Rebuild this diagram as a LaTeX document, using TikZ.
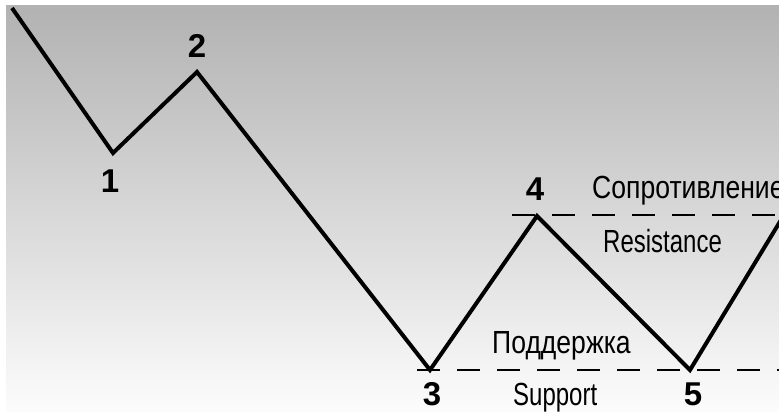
\documentclass[tikz,border=0pt]{standalone}
\usepackage{fontspec}
\setmainfont{Liberation Sans}
\newfontfamily\narrowsans[FakeStretch=0.75]{Liberation Sans}
\newfontfamily\narrowcyr[FakeStretch=0.83]{Liberation Sans}
\usetikzlibrary{calc}

\begin{document}
\begin{tikzpicture}[x=1pt,y=-1pt,
	wave/.style={line width=4pt,line join=miter},
	level/.style={line width=2.5pt,dash pattern=on 23pt off 17pt},
	num/.style={anchor=base,inner sep=0pt,font=\fontsize{33}{33}\selectfont\bfseries},
	lbl/.style={anchor=base west,inner sep=0pt,font=\narrowsans\fontsize{32}{32}\selectfont},
	lblcyr/.style={lbl,font=\narrowcyr\fontsize{32}{32}\selectfont}]
	\useasboundingbox (0,0) rectangle (779,412);
	\clip (0,0) rectangle (779,412);
	\shade [top color={rgb,255:red,178;green,178;blue,178},bottom color={rgb,255:red,252;green,252;blue,252}] (6,6) rectangle (779,412);
	\coordinate (p0) at (12,8);
	\coordinate (p1) at (113,153);
	\coordinate (p2) at (197,72);
	\coordinate (p3) at (430,370);
	\coordinate (p4) at (537,216);
	\coordinate (p5) at (690,370);
	\coordinate (p6) at (784,215);
	\coordinate (r0) at (512,215);
	\coordinate (r1) at (790,215);
	\coordinate (s0) at (417,370);
	\coordinate (s1) at (790,370);
	\draw [level] (r0) -- (r1);
	\draw [level] (s0) -- (s1);
	\draw [wave] (p0) -- (p1) -- (p2) -- (p3) -- (p4) -- (p5) -- (p6);
	\node [num] (n1) at (110,192) {1};
	\node [num] (n2) at (197,58) {2};
	\node [num] (n3) at (432,405) {3};
	\node [num] (n4) at (535,200) {4};
	\node [num] (n5) at (693,405) {5};
	\node [lblcyr] (resru) at (592,198) {Сопротивление};
	\node [lbl] (resen) at (603,252) {Resistance};
	\node [lblcyr] (supru) at (492,353) {Поддержка};
	\node [lbl] (supen) at (513,405) {Support};
\end{tikzpicture}
\end{document}
